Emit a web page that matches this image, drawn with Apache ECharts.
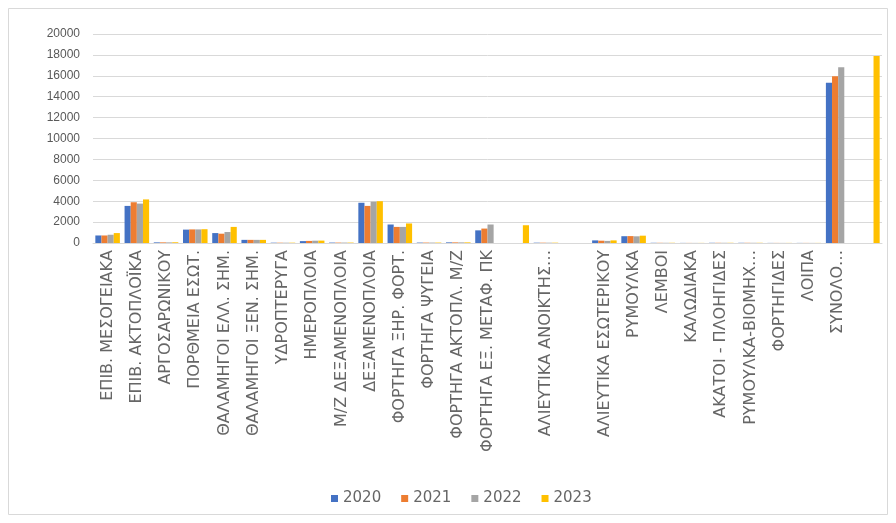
<!DOCTYPE html>
<html>
<head>
<meta charset="utf-8">
<script src="https://cdn.jsdelivr.net/npm/echarts@6/dist/echarts.min.js"></script>
<style>
  html, body { margin: 0; padding: 0; background: #fff; }
  #chart { width: 896px; height: 523px; }
</style>
</head>
<body>
<div id="chart"></div>
<script>
// Vessel categories (blank entries are rows without a name)
const categories = [
  'ΕΠΙΒ. ΜΕΣΟΓΕΙΑΚΑ', 'ΕΠΙΒ. ΑΚΤΟΠΛΟΪΚΑ', 'ΑΡΓΟΣΑΡΩΝΙΚΟΥ', 'ΠΟΡΘΜΕΙΑ ΕΣΩΤ.',
  'ΘΑΛΑΜΗΓΟΙ ΕΛΛ. ΣΗΜ.', 'ΘΑΛΑΜΗΓΟΙ ΞΕΝ. ΣΗΜ.', 'ΥΔΡΟΠΤΕΡΥΓΑ', 'ΗΜΕΡΟΠΛΟΙΑ',
  'Μ/Ζ ΔΕΞΑΜΕΝΟΠΛΟΙΑ', 'ΔΕΞΑΜΕΝΟΠΛΟΙΑ', 'ΦΟΡΤΗΓΑ ΞΗΡ. ΦΟΡΤ.', 'ΦΟΡΤΗΓΑ ΨΥΓΕΙΑ',
  'ΦΟΡΤΗΓΑ ΑΚΤΟΠΛ. Μ/Ζ', 'ΦΟΡΤΗΓΑ ΕΞ. ΜΕΤΑΦ. ΠΚ', '', 'ΑΛΙΕΥΤΙΚΑ ΑΝΟΙΚΤΗΣ…', '',
  'ΑΛΙΕΥΤΙΚΑ ΕΣΩΤΕΡΙΚΟΥ', 'ΡΥΜΟΥΛΚΑ', 'ΛΕΜΒΟΙ', 'ΚΑΛΩΔΙΑΚΑ', 'ΑΚΑΤΟΙ - ΠΛΟΗΓΙΔΕΣ',
  'ΡΥΜΟΥΛΚΑ-ΒΙΟΜΗΧ…', 'ΦΟΡΤΗΓΙΔΕΣ', 'ΛΟΙΠΑ', 'ΣΥΝΟΛΟ…', ''
];

const years = ['2020', '2021', '2022', '2023'];

const values2020 = [720, 3550, 60, 1280, 950, 300, 30, 180, 40, 3850, 1770, 40, 60, 1210, null, 30, null, 250, 650, 20, 10, 20, 20, 10, 10, 15340, null];
const values2021 = [720, 3900, 60, 1300, 890, 300, 30, 200, 40, 3550, 1540, 40, 60, 1380, null, 30, null, 220, 660, 20, 10, 20, 20, 10, 10, 15950, null];
const values2022 = [790, 3770, 60, 1300, 1050, 300, 30, 220, 40, 3950, 1540, 40, 60, 1770, null, 30, null, 200, 640, 20, 10, 20, 20, 10, 10, 16810, null];
const values2023 = [950, 4170, 70, 1320, 1540, 300, 30, 230, 40, 4000, 1870, 40, 60, null, 1700, 30, null, 250, 700, 20, 10, 20, 20, 10, 10, null, 17900];

const yTicks = { min: 0, max: 20000, interval: 2000 };

const palette = ['#4472C4', '#ED7D31', '#A5A5A5', '#FFC000'];
const seriesValues = [values2020, values2021, values2022, values2023];

const chart = echarts.init(document.getElementById('chart'), null, { renderer: 'canvas' });

chart.setOption({
  backgroundColor: '#ffffff',
  animation: false,
  color: palette,
  textStyle: { fontFamily: 'DejaVu Sans, sans-serif' },
  graphic: [{
    type: 'rect',
    shape: { x: 8.5, y: 8.5, width: 879, height: 506 },
    style: { fill: 'none', stroke: '#d9d9d9', lineWidth: 1 },
    silent: true
  }],
  grid: { left: 93, right: 14, top: 34, bottom: 280, containLabel: false },
  legend: {
    data: years,
    top: 486,
    left: 326,
    icon: 'rect',
    itemWidth: 7,
    itemHeight: 7,
    itemGap: 20,
    textStyle: { color: '#666666', fontSize: 15, fontFamily: 'DejaVu Sans, sans-serif' }
  },
  xAxis: {
    type: 'category',
    data: categories,
    axisLine: { lineStyle: { color: '#d9d9d9' } },
    axisTick: { show: false },
    axisLabel: {
      interval: 0,
      rotate: 90,
      margin: 7,
      color: '#666666',
      fontSize: 16,
      fontFamily: 'DejaVu Sans, sans-serif'
    }
  },
  yAxis: {
    type: 'value',
    min: yTicks.min,
    max: yTicks.max,
    interval: yTicks.interval,
    axisLine: { show: false },
    axisTick: { show: false },
    splitLine: { lineStyle: { color: '#d9d9d9' } },
    axisLabel: {
      color: '#595959',
      fontSize: 12,
      margin: 13,
      fontFamily: 'Liberation Sans, Arial, sans-serif',
      formatter: (v) => String(v)
    }
  },
  series: years.map((y, i) => ({
    name: y,
    type: 'bar',
    data: seriesValues[i],
    barGap: '0%',
    barCategoryGap: '16%'
  }))
});
</script>
</body>
</html>
